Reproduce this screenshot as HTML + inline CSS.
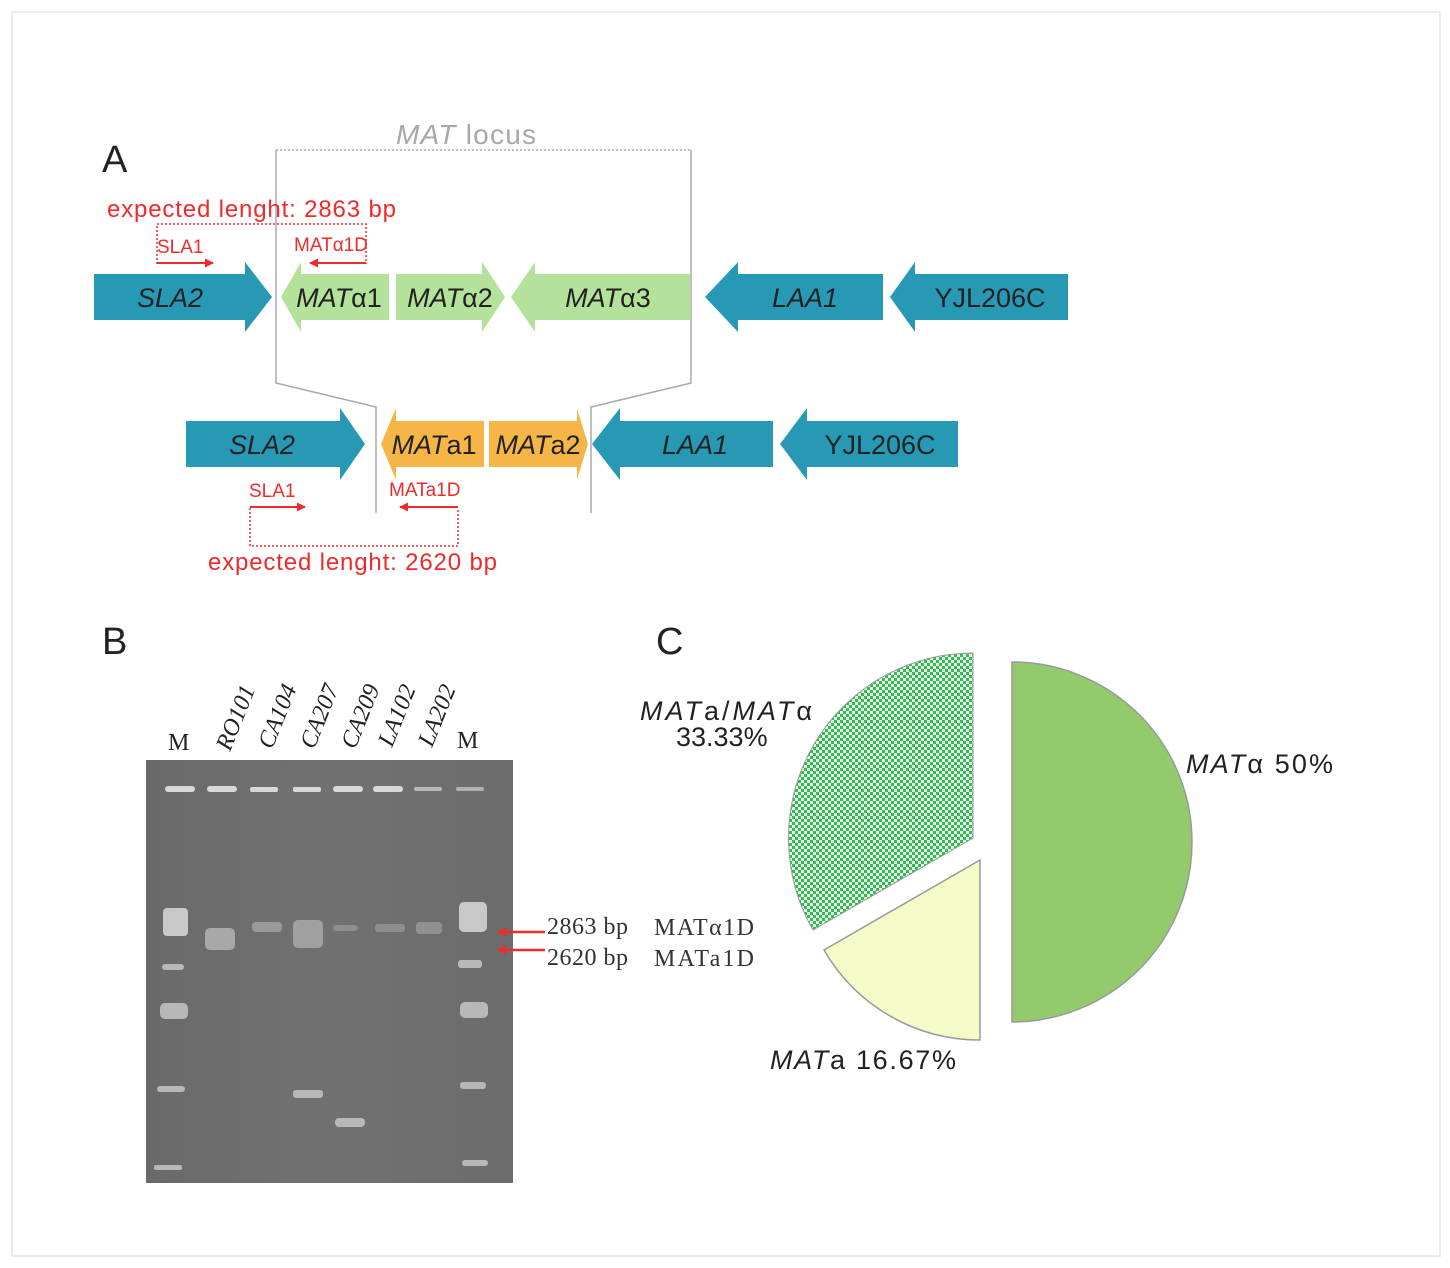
<!DOCTYPE html>
<html><head><meta charset="utf-8"><style>
html,body{margin:0;padding:0;background:#fff;}
svg{display:block;}
.s{font-family:"Liberation Sans","DejaVu Sans",sans-serif;}
.r{font-family:"Liberation Serif","DejaVu Serif",serif;}
</style></head><body>
<svg width="1450" height="1268" viewBox="0 0 1450 1268" xmlns="http://www.w3.org/2000/svg">
<defs>
<pattern id="chk" width="6" height="6" patternUnits="userSpaceOnUse">
<rect width="6" height="6" fill="#eaf7d0"/>
<rect width="3" height="3" fill="#2fb86a"/>
<rect x="3" y="3" width="3" height="3" fill="#2fb86a"/>
</pattern>
<marker id="ah" markerWidth="9" markerHeight="9" refX="8" refY="4.5" orient="auto" markerUnits="userSpaceOnUse"><path d="M0,0 L9,4.5 L0,9 Z" fill="#f02a2a"/></marker>
<linearGradient id="gel" x1="0" y1="0" x2="1" y2="0">
<stop offset="0" stop-color="#6a6a6a"/><stop offset="0.5" stop-color="#717171"/><stop offset="1" stop-color="#6c6c6c"/></linearGradient>
</defs>
<rect x="12" y="12" width="1428" height="1244" fill="#fff" stroke="#ececec" stroke-width="2"/>

<g class="s">
<!-- Panel A -->
<text x="102" y="172" font-size="38" fill="#222">A</text>
<text x="396" y="144" font-size="28" fill="#a8a8a8" textLength="140"><tspan font-style="italic">MAT</tspan> locus</text>
<path d="M276,150 H691" stroke="#aaa" stroke-width="1.5" stroke-dasharray="2,2" fill="none"/>
<path d="M276,150 V383 L376,407 V513 M691,150 V383 L591,407 V513" stroke="#aaa" stroke-width="1.5" fill="none"/>

<g fill="#2899b5">
<polygon points="94,274 245,274 245,262 272,297 245,332 245,320 94,320"/>
<polygon points="705,297 738,262 738,274 883,274 883,320 738,320 738,332"/>
<polygon points="890,297 915,262 915,274 1068,274 1068,320 915,320 915,332"/>
</g>
<g fill="#b4e29b">
<polygon points="281,297 301,262 301,274 389,274 389,320 301,320 301,332"/>
<polygon points="396,274 482,274 482,262 505,297 482,332 482,320 396,320"/>
<polygon points="511,297 535,262 535,274 690,274 690,320 535,320 535,332"/>
</g>
<g font-size="27" fill="#222" font-style="italic" text-anchor="middle">
<text x="170" y="307">SLA2</text>
<text x="339" y="307">MAT<tspan font-style="normal">α1</tspan></text>
<text x="450" y="307">MAT<tspan font-style="normal">α2</tspan></text>
<text x="608" y="307">MAT<tspan font-style="normal">α3</tspan></text>
<text x="805" y="307">LAA1</text>
<text x="990" y="307" font-style="normal">YJL206C</text>
</g>

<g fill="#2899b5">
<polygon points="186,421 340,421 340,408 365,444 340,480 340,467 186,467"/>
<polygon points="592,444 620,408 620,421 773,421 773,467 620,467 620,480"/>
<polygon points="780,444 807,408 807,421 958,421 958,467 807,467 807,480"/>
</g>
<g fill="#f6b647">
<polygon points="381,444 396,408 396,421 484,421 484,467 396,467 396,480"/>
<polygon points="489,421 577,421 577,408 588,444 577,480 577,467 489,467"/>
</g>
<g font-size="27" fill="#222" font-style="italic" text-anchor="middle">
<text x="262" y="454">SLA2</text>
<text x="434" y="454">MAT<tspan font-style="normal">a1</tspan></text>
<text x="538" y="454">MAT<tspan font-style="normal">a2</tspan></text>
<text x="695" y="454">LAA1</text>
<text x="880" y="454" font-style="normal">YJL206C</text>
</g>

<g fill="#f02a2a">
<text x="107" y="217" font-size="24" textLength="289">expected lenght: 2863 bp</text>
<text x="157" y="253" font-size="19">SLA1</text>
<text x="294" y="251" font-size="19">MATα1D</text>
<text x="249" y="497" font-size="19">SLA1</text>
<text x="389" y="496" font-size="19">MATa1D</text>
<text x="208" y="570" font-size="24" textLength="289">expected lenght: 2620 bp</text>
</g>
<g stroke="#f02a2a" stroke-width="2" fill="none">
<path d="M157,264 V224 H366 V264" stroke-dasharray="2,2" stroke-width="1.5"/>
<path d="M157,263 H213" marker-end="url(#ah)"/>
<path d="M366,263 H310" marker-end="url(#ah)"/>
<path d="M250,508 V546 H458 V508" stroke-dasharray="2,2" stroke-width="1.5"/>
<path d="M250,507 H305" marker-end="url(#ah)"/>
<path d="M458,507 H400" marker-end="url(#ah)"/>
</g>

<text x="102" y="654" font-size="38" fill="#222">B</text>
<text x="656" y="654" font-size="38" fill="#222">C</text>
</g>

<!-- Panel B -->
<g font-size="24" fill="#222">
<text class="r" x="168" y="750">M</text>
<text class="r" x="457" y="748">M</text>
<text class="r" font-style="italic" transform="translate(230,752) rotate(-68)">RO101</text>
<text class="r" font-style="italic" transform="translate(272,750) rotate(-68)">CA104</text>
<text class="r" font-style="italic" transform="translate(314,750) rotate(-68)">CA207</text>
<text class="r" font-style="italic" transform="translate(355,750) rotate(-68)">CA209</text>
<text class="r" font-style="italic" transform="translate(392,748) rotate(-68)">LA102</text>
<text class="r" font-style="italic" transform="translate(432,748) rotate(-68)">LA202</text>
</g>
<rect x="146" y="760" width="367" height="423" fill="url(#gel)"/>
<g fill="#d8d8d8">
<rect x="165" y="786" width="30" height="6" rx="3"/>
<rect x="207" y="786" width="30" height="6" rx="3"/>
<rect x="250" y="787" width="28" height="5" rx="2"/>
<rect x="293" y="787" width="28" height="5" rx="2"/>
<rect x="333" y="786" width="30" height="6" rx="3"/>
<rect x="373" y="786" width="30" height="6" rx="3"/>
<rect x="414" y="787" width="28" height="4" rx="2" fill="#b8b8b8"/>
<rect x="456" y="787" width="28" height="4" rx="2" fill="#b0b0b0"/>
</g>
<g fill="#b8b8b8">
<rect x="163" y="908" width="25" height="28" rx="4" fill="#c8c8c8"/>
<rect x="162" y="964" width="22" height="6" rx="3"/>
<rect x="160" y="1003" width="28" height="16" rx="5"/>
<rect x="157" y="1086" width="28" height="6" rx="3"/>
<rect x="154" y="1165" width="28" height="5" rx="2"/>
<rect x="205" y="928" width="30" height="22" rx="5" fill="#a8a8a8"/>
<rect x="252" y="922" width="30" height="10" rx="4" fill="#9a9a9a"/>
<rect x="293" y="920" width="30" height="28" rx="5" fill="#a0a0a0"/>
<rect x="293" y="1090" width="30" height="8" rx="3"/>
<rect x="333" y="925" width="25" height="6" rx="3" fill="#8e8e8e"/>
<rect x="335" y="1118" width="30" height="9" rx="4"/>
<rect x="375" y="924" width="30" height="8" rx="3" fill="#8e8e8e"/>
<rect x="416" y="922" width="26" height="12" rx="4" fill="#909090"/>
<rect x="459" y="902" width="28" height="30" rx="5" fill="#c8c8c8"/>
<rect x="458" y="960" width="24" height="8" rx="3"/>
<rect x="460" y="1002" width="28" height="16" rx="5"/>
<rect x="460" y="1082" width="26" height="7" rx="3"/>
<rect x="462" y="1160" width="26" height="6" rx="3"/>
</g>
<g stroke="#f02a2a" stroke-width="2.5">
<path d="M545,932 H498" marker-end="url(#ah)"/>
<path d="M545,950 H498" marker-end="url(#ah)"/>
</g>
<g font-size="24" fill="#333">
<text class="r" x="547" y="934" textLength="81">2863 bp</text>
<text class="r" x="654" y="935" textLength="100">MATα1D</text>
<text class="r" x="547" y="965" textLength="81">2620 bp</text>
<text class="r" x="654" y="966" textLength="100">MATa1D</text>
</g>

<!-- Panel C -->
<path d="M1012,662 A180,180 0 0 1 1012,1022 Z" fill="#93cb6c" stroke="#999" stroke-width="1.5"/>
<path d="M980,860 V1040 A180,180 0 0 1 824,950 Z" fill="#f4fbc8" stroke="#999" stroke-width="1.5"/>
<path d="M973,838 V653 A185,185 0 0 0 813,930 Z" fill="url(#chk)" stroke="#999" stroke-width="1"/>
<g class="s" font-size="27" fill="#222">
<text x="640" y="720" font-style="italic" textLength="172">MAT<tspan font-style="normal">a/</tspan>MAT<tspan font-style="normal">α</tspan></text>
<text x="676" y="746">33.33%</text>
<text x="1186" y="773" textLength="147"><tspan font-style="italic">MAT</tspan>α 50%</text>
<text x="770" y="1069" textLength="186"><tspan font-style="italic">MAT</tspan>a 16.67%</text>
</g>
</svg>
</body></html>
